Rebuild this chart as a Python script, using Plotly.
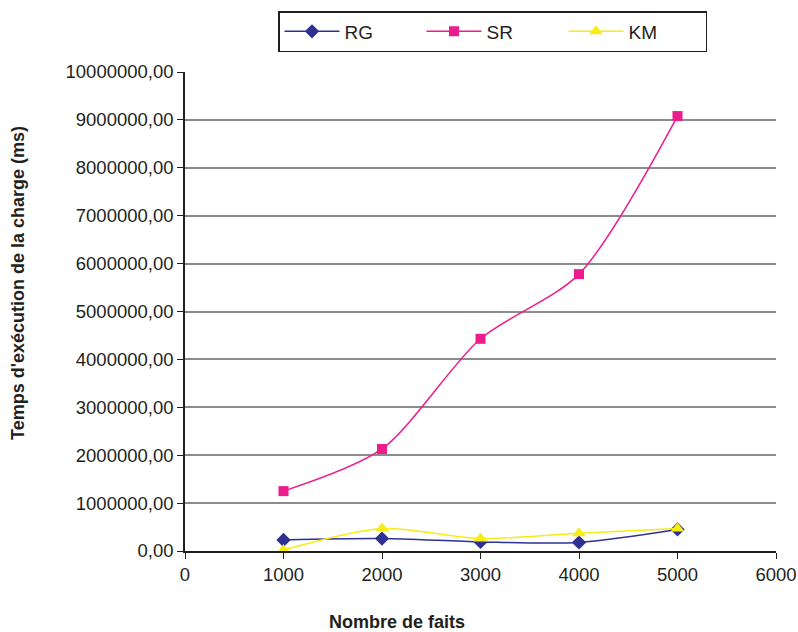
import plotly.graph_objects as go

faits = [1000, 2000, 3000, 4000, 5000]
rg = [230000, 260000, 190000, 180000, 450000]
sr = [1250000, 2130000, 4430000, 5780000, 9080000]
km = [20000, 470000, 260000, 370000, 470000]

font = "Liberation Sans, Arial, sans-serif"

W, H = 798, 632

fig = go.Figure()
fig.add_trace(go.Scatter(x=faits, y=rg, name="RG", mode="lines+markers",
                         line=dict(color="#2E3192", width=1.5, shape="spline", smoothing=0.8),
                         marker=dict(symbol="diamond", size=11, color="#2E3192")))
fig.add_trace(go.Scatter(x=faits, y=sr, name="SR", mode="lines+markers",
                         line=dict(color="#EC1C8C", width=1.5, shape="spline", smoothing=0.8),
                         marker=dict(symbol="square", size=10, color="#EC1C8C")))
fig.add_trace(go.Scatter(x=faits, y=km, name="KM", mode="lines+markers",
                         line=dict(color="#F7EC13", width=1.5, shape="spline", smoothing=0.8),
                         marker=dict(symbol="triangle-up", size=12, color="#F7EC13")))

fig.update_layout(
    width=W, height=H,
    margin=dict(l=185, r=22, t=72, b=81, autoexpand=False),
    paper_bgcolor="white", plot_bgcolor="white",
    font=dict(family=font, size=18.5, color="#231F20"),
    separators=", ",
    showlegend=True,
    legend=dict(orientation="h", x=278 / W, y=1 - 11 / H, xref="container", yref="container",
                xanchor="left", yanchor="top",
                bordercolor="#231F20", borderwidth=1.5, bgcolor="white",
                entrywidth=72, itemwidth=55, font=dict(size=19)),
    xaxis=dict(range=[0, 6000], tickvals=[0, 1000, 2000, 3000, 4000, 5000, 6000],
               showgrid=False, zeroline=False, showline=True, linecolor="#231F20",
               linewidth=1.5, ticks="outside", ticklen=6, tickcolor="#231F20",
               automargin=False),
    yaxis=dict(range=[0, 10000000], dtick=1000000, tickformat=".2f",
               showgrid=True, gridcolor="#8C8C8C", gridwidth=1.5, zeroline=False,
               showline=True, linecolor="#231F20", linewidth=1.5,
               ticks="outside", ticklen=6, tickcolor="#231F20", automargin=False),
    annotations=[
        dict(text="<b>Nombre de faits</b>", xref="paper", yref="paper",
             x=(397 - 185) / 591, y=-(622 - 551) / 479, xanchor="center", yanchor="middle",
             showarrow=False, font=dict(size=18)),
        dict(text="<b>Temps d'exécution de la charge (ms)</b>", xref="paper", yref="paper",
             x=-(185 - 18) / 591, y=(551 - 283) / 479, xanchor="center", yanchor="middle",
             textangle=-90, showarrow=False, font=dict(size=18)),
    ],
)

fig.write_html("out.html", config={"displayModeBar": False},
               post_script="document.body.style.margin='0';document.body.style.overflow='hidden';")
